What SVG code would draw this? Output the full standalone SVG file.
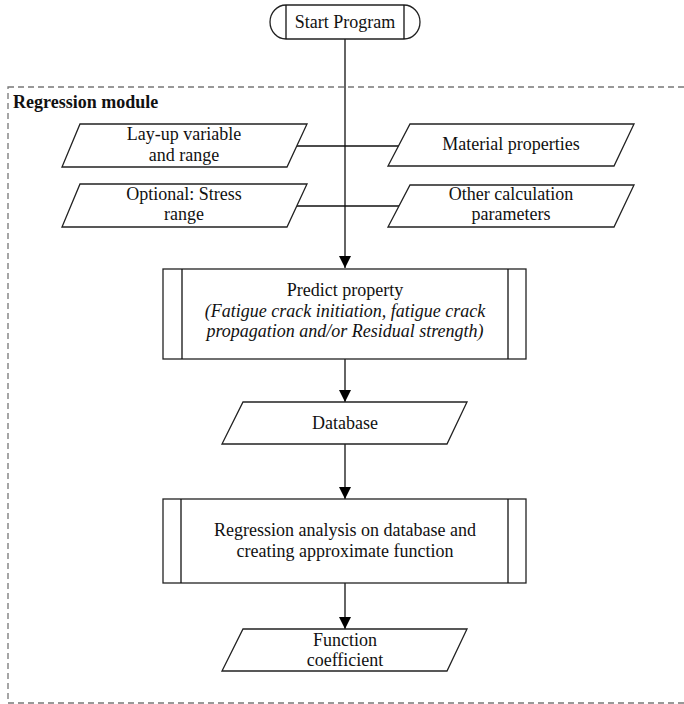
<svg xmlns="http://www.w3.org/2000/svg" width="684" height="704" viewBox="0 0 684 704">
  <style>
    .shape { fill: #fff; stroke: #222; stroke-width: 1.3; }
    .line { fill: none; stroke: #111; stroke-width: 1.3; }
    .txt { font-family: "Liberation Serif", "Times New Roman", serif; font-size: 18px; fill: #111; text-anchor: middle; }
    .it { font-style: italic; }
    .title { font-family: "Liberation Serif", "Times New Roman", serif; font-size: 18px; font-weight: bold; fill: #111; }
  </style>
  <defs>
    <marker id="arrow" markerUnits="userSpaceOnUse" markerWidth="12" markerHeight="12" refX="12" refY="6" orient="auto">
      <path d="M0,0 L12,6 L0,12 Z" fill="#000"/>
    </marker>
  </defs>

  <rect width="684" height="704" fill="#fff"/>

  <!-- module boundary -->
  <g id="regression-module">
    <rect x="8" y="87" width="690" height="616" fill="none" stroke="#777" stroke-width="1.3" stroke-dasharray="6 4"/>
    <text class="title" x="13" y="108">Regression module</text>
  </g>

  <!-- connectors -->
  <g id="connectors">
    <line class="line" x1="345" y1="39" x2="345" y2="146"/>
    <line class="line" x1="345" y1="146" x2="345" y2="268" stroke-width="2" marker-end="url(#arrow)"/>
    <line class="line" x1="297" y1="146" x2="399" y2="146"/>
    <line class="line" x1="297" y1="206" x2="399" y2="206"/>
    <line class="line" x1="345" y1="359" x2="345" y2="402" marker-end="url(#arrow)"/>
    <line class="line" x1="345" y1="444" x2="345" y2="499" marker-end="url(#arrow)"/>
    <line class="line" x1="345" y1="583" x2="345" y2="629" marker-end="url(#arrow)"/>
  </g>

  <g id="start">
    <path class="shape" d="M286,5 L404,5 A16,17 0 0 1 404,39 L286,39 A16,17 0 0 1 286,5 Z"/>
    <line class="line" x1="286" y1="5" x2="286" y2="39"/>
    <line class="line" x1="404" y1="5" x2="404" y2="39"/>
    <text class="txt" x="345" y="28">Start Program</text>
  </g>

  <g id="layup">
    <polygon class="shape" points="80,124 307,124 287,167 62,167"/>
    <text class="txt" x="184" y="140">Lay-up variable</text>
    <text class="txt" x="184" y="161">and range</text>
  </g>

  <g id="material">
    <polygon class="shape" points="410,124 634,124 614,166 388,166"/>
    <text class="txt" x="511" y="150">Material properties</text>
  </g>

  <g id="stress">
    <polygon class="shape" points="80,184 307,184 287,227 62,227"/>
    <text class="txt" x="184" y="200">Optional: Stress</text>
    <text class="txt" x="184" y="220">range</text>
  </g>

  <g id="other">
    <polygon class="shape" points="410,185 634,185 614,227 388,227"/>
    <text class="txt" x="511" y="200">Other calculation</text>
    <text class="txt" x="511" y="220">parameters</text>
  </g>

  <g id="predict">
    <rect class="shape" x="163" y="269" width="363" height="90"/>
    <line class="line" x1="182" y1="269" x2="182" y2="359"/>
    <line class="line" x1="508" y1="269" x2="508" y2="359"/>
    <text class="txt" x="345" y="296">Predict property</text>
    <text class="txt it" x="345" y="317">(Fatigue crack initiation, fatigue crack</text>
    <text class="txt it" x="345" y="337">propagation and/or Residual strength)</text>
  </g>

  <g id="database">
    <polygon class="shape" points="243,402 467,402 447,444 222,444"/>
    <text class="txt" x="345" y="429">Database</text>
  </g>

  <g id="regression">
    <rect class="shape" x="163" y="499" width="363" height="84"/>
    <line class="line" x1="181" y1="499" x2="181" y2="583"/>
    <line class="line" x1="508" y1="499" x2="508" y2="583"/>
    <text class="txt" x="345" y="536">Regression analysis on database and</text>
    <text class="txt" x="345" y="557">creating approximate function</text>
  </g>

  <g id="coefficient">
    <polygon class="shape" points="243,629 467,629 447,671 222,671"/>
    <text class="txt" x="345" y="646">Function</text>
    <text class="txt" x="345" y="666">coefficient</text>
  </g>
</svg>
